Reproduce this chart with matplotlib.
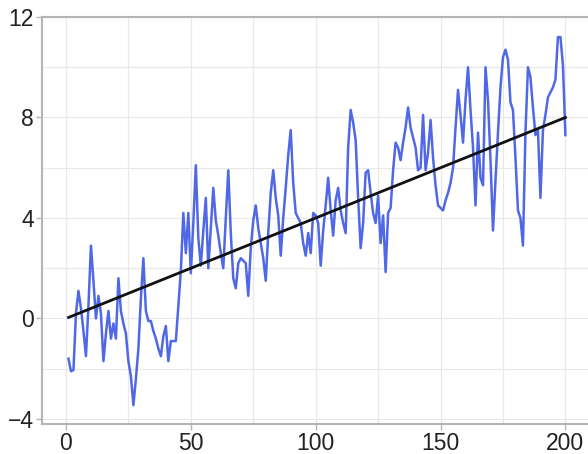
import matplotlib
matplotlib.use("Agg")
import matplotlib.pyplot as plt
from matplotlib.ticker import MultipleLocator

x_values = list(range(1, 201))
y_values = [
    -1.6, -2.1, -2.05, 0.2, 1.1, 0.4, -0.5, -1.5, 0.5, 2.9,
    1.5, 0.0, 0.9, 0.2, -1.7, -0.6, 0.3, -0.8, -0.2, -0.8,
    1.6, 0.3, -0.2, -0.6, -1.7, -2.3, -3.45, -2.4, -1.2, 0.8,
    2.4, 0.3, -0.1, -0.1, -0.5, -0.8, -1.2, -1.5, -0.7, -0.3,
    -1.7, -0.9, -0.9, -0.9, 0.5, 1.9, 4.2, 2.6, 4.2, 1.8,
    3.8, 6.1, 3.2, 2.1, 3.5, 4.8, 2.0, 3.6, 5.2, 3.9,
    3.3, 2.6, 2.0, 4.0, 5.9, 3.4, 1.6, 1.2, 2.2, 2.4,
    2.3, 2.2, 0.9, 2.8, 3.9, 4.5, 3.6, 3.0, 2.4, 1.5,
    3.4, 5.0, 5.9, 4.8, 4.1, 2.5, 4.0, 5.2, 6.5, 7.5,
    5.4, 4.2, 4.0, 3.8, 3.0, 2.5, 3.4, 2.6, 4.2, 4.1,
    3.8, 2.1, 3.5, 4.5, 5.6, 4.3, 3.3, 4.7, 5.2, 4.3,
    3.8, 3.4, 6.8, 8.3, 7.8, 7.1, 4.8, 2.8, 3.8, 5.8,
    5.9, 5.0, 4.2, 3.8, 4.9, 3.0, 4.1, 1.85, 4.2, 4.4,
    5.9, 7.0, 6.8, 6.3, 7.0, 7.6, 8.4, 7.6, 7.2, 6.8,
    5.9, 6.0, 8.1, 5.9, 6.6, 7.9, 6.4, 5.3, 4.5, 4.4,
    4.3, 4.7, 5.0, 5.4, 6.0, 7.6, 9.1, 8.1, 7.0, 8.7,
    10.0, 8.3, 6.8, 4.5, 7.4, 5.6, 5.3, 10.0, 8.7, 6.3,
    3.5, 5.5, 7.4, 9.2, 10.4, 10.7, 10.3, 8.6, 8.3, 6.4,
    4.3, 4.0, 2.9, 7.4, 10.0, 9.6, 8.4, 7.3, 7.5, 4.8,
    7.5, 8.1, 8.8, 9.0, 9.2, 9.5, 11.2, 11.2, 10.1, 7.3,
]
trend_x = [1, 200]
trend_y = [0.04, 8.0]

x_ticks = [0, 50, 100, 150, 200]
y_ticks = [-4, 0, 4, 8, 12]

plt.rcParams['font.family'] = ['Liberation Sans', 'DejaVu Sans']

fig = plt.figure(figsize=(5.88, 4.54), dpi=100)
ax = fig.add_axes([42/588, 1 - 424/454, 1 - 42/588 + 0.01, (424 - 17)/454])

ax.plot(x_values, y_values, color='#5068e6', linewidth=1.8, zorder=3)
ax.plot(trend_x, trend_y, color='#111111', linewidth=2.0, zorder=4)

ax.set_xlim(-9.6, 211.4)
ax.set_ylim(-4.2, 12)
ax.set_xticks(x_ticks)
ax.set_yticks(y_ticks)
ax.set_yticklabels([str(v) if v >= 0 else '\u2212' + str(-v) for v in y_ticks])
ax.xaxis.set_minor_locator(MultipleLocator(25))
ax.yaxis.set_minor_locator(MultipleLocator(2))
ax.grid(True, which='both', color='#e8e8e8', linewidth=0.9, zorder=0)
ax.set_axisbelow(True)

for side in ['left', 'bottom', 'top']:
    ax.spines[side].set_color('#b5b5b5')
    ax.spines[side].set_linewidth(1.5)
ax.spines['right'].set_visible(False)

ax.tick_params(axis='both', which='major', length=4, width=1, color='#b5b5b5',
               labelsize=16.5, labelcolor='#222222', pad=2)
ax.tick_params(axis='both', which='minor', length=0)

fig.savefig('out.png', dpi=100)
